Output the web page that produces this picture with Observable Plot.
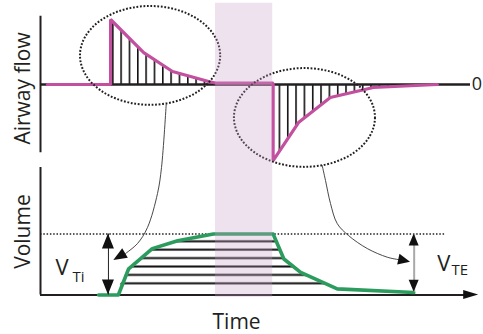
<!DOCTYPE html>
<html><head><meta charset="utf-8">
<script src="https://cdn.jsdelivr.net/npm/d3@7"></script>
<script src="https://cdn.jsdelivr.net/npm/@observablehq/plot@0.6"></script>
<style>body{margin:0;background:#fff}#chart{width:483px;height:334px}</style>
</head><body><div id="chart"></div>
<script>
// ---------- values ----------
const flowTime   = [0.16, 1.63, 1.63, 2.40, 3.07, 3.91, 4.10, 5.41, 5.41, 6.00, 6.74, 7.74, 9.23];
const flowValue  = [0, 0, 1.00, 0.49, 0.20, 0.046, 0.02, 0.02, -1.17, -0.585, -0.20, -0.046, 0];
const volumeTime  = [1.35, 1.81, 2.05, 2.60, 3.19, 4.02, 5.41, 5.66, 6.05, 6.90, 8.68];
const volumeValue = [0, 0, 0.43, 0.76, 0.89, 1.00, 1.00, 0.59, 0.37, 0.10, 0.04];
const pauseStart = [4.07];
const pauseEnd   = [5.40];
const panelNames = ["Airway flow", "Volume"];
const timeLabel  = ["Time"];
const zeroLabel  = ["0"];
const tidalNames = ["V", "Ti", "V", "TE"];
// annotation waypoints: [panel, time, value]
const linkIn  = [["f",2.923,-0.308],["f",2.814,-1.277],["v",2.721,1.664],["v",2.488,1.107],["v",2.256,0.844],["v",1.977,0.68]];
const linkInTip = ["v",1.705,0.566];
const linkOut = [["f",6.551,-1.246],["v",6.628,1.877],["v",6.744,1.5],["v",6.9,1.172],["v",7.163,0.975],["v",7.598,0.762],["v",8.063,0.62],["v",8.333,0.579]];
const linkOutTip = ["v",8.605,0.538];
const ellipseT = [2.56, 6.15], ellipseF = [0.44, -0.515], ellipseRT = [1.63, 1.64], ellipseRF = [0.76, 0.76];
const vtiTime = 1.58, vteTime = 8.69, vteLow = 0.045;

// ---------- layout of the two panels on one vertical scale ----------
const FLOW_Y0 = 250, FLOW_K = 65, VOL_Y0 = 39.5, VOL_K = 61;
const Yf = f => FLOW_Y0 + FLOW_K * f;
const Yv = v => VOL_Y0 + VOL_K * v;
const Yp = ([p, t, v]) => ({t, Y: p === "f" ? Yf(v) : Yv(v)});

const PINK = "#c3509f", GREEN = "#2b9c5e", INK = "#231f20";
const flow = flowTime.map((t, i) => ({t, v: flowValue[i]}));
const vol  = volumeTime.map((t, i) => ({t, v: volumeValue[i]}));
const insp = flow.slice(1, 7), expi = flow.slice(7);
const HB = 0.1;
const pause = pauseStart.map((s, i) => ({s, e: pauseEnd[i]}));

function annotations(index, {x, y}) {
  const g = d3.create("svg:g");
  // dotted ellipses
  ellipseT.forEach((t, i) => {
    g.append("ellipse")
      .attr("cx", x(t)).attr("cy", y(Yf(ellipseF[i])))
      .attr("rx", x(t + ellipseRT[i]) - x(t))
      .attr("ry", Math.abs(y(Yf(ellipseF[i] + ellipseRF[i])) - y(Yf(ellipseF[i]))))
      .attr("fill", "none").attr("stroke", INK).attr("stroke-width", 2)
      .attr("stroke-dasharray", "1.8 1.7");
  });
  const head = (tip, from, len, hw) => {
    const tx = x(tip.t), ty = y(tip.Y), fx = x(from.t), fy = y(from.Y);
    let dx = tx - fx, dy = ty - fy; const d = Math.hypot(dx, dy); dx /= d; dy /= d;
    const L = len ?? d;
    const bx = tx - dx * L, by = ty - dy * L;
    g.append("path")
      .attr("d", `M${tx},${ty}L${bx - dy * hw},${by + dx * hw}L${bx + dy * hw},${by - dx * hw}Z`)
      .attr("fill", "#111");
  };
  head(Yp(linkInTip), Yp(linkIn[linkIn.length - 1]), null, 5.5);
  head(Yp(linkOutTip), Yp(linkOut[linkOut.length - 1]), null, 5.5);
  // tidal volume double arrows
  head({t: vtiTime, Y: Yv(1)}, {t: vtiTime, Y: Yv(0)}, 15, 6);
  head({t: vtiTime, Y: Yv(0)}, {t: vtiTime, Y: Yv(1)}, 15, 6);
  head({t: vteTime, Y: Yv(1)}, {t: vteTime, Y: Yv(vteLow)}, 12, 5);
  head({t: vteTime, Y: Yv(vteLow)}, {t: vteTime, Y: Yv(1)}, 12, 5);
  // time axis arrow
  head({t: 10.19, Y: Yv(0)}, {t: 9.8, Y: Yv(0)}, 15, 4.5);
  return g.node();
}

const chart = Plot.plot({
  width: 483, height: 334,
  marginLeft: 0, marginRight: 0, marginTop: 0, marginBottom: 0,
  x: {domain: [0, 10], range: [40, 470], axis: null},
  y: {domain: [0, 334], range: [334, 0], axis: null},
  style: {fontFamily: "'Open Sans', sans-serif", fontSize: "21px", color: INK, background: "#fff", overflow: "visible"},
  marks: [
    // hatching
    Plot.areaY(insp, {x: "t", y1: Yf(0), y2: d => Yf(d.v), fill: "url(#vhatch)"}),
    Plot.areaY(expi, {x: "t", y1: Yf(0), y2: d => Yf(d.v), fill: "url(#vhatch)"}),
    Plot.areaY(vol.slice(1), {x: "t", y1: Yv(HB), y2: d => Yv(Math.max(d.v, HB)), fill: "url(#hhatch)"}),
    // axes
    Plot.ruleX([0], {y1: Yf(-1.05), y2: Yf(1.05), stroke: INK, strokeWidth: 2}),
    Plot.ruleY([Yf(0)], {x1: 0, x2: 10, stroke: INK, strokeWidth: 2.4}),
    Plot.ruleX([0], {y1: Yv(0), y2: Yv(2.09), stroke: INK, strokeWidth: 2}),
    Plot.ruleY([Yv(0)], {x1: 0, x2: 9.9, stroke: INK, strokeWidth: 2}),
    Plot.ruleY([Yv(1)], {x1: 0, x2: 9.42, stroke: INK, strokeWidth: 1.5, strokeDasharray: "1.5 1.8"}),
    // curves
    Plot.line(flow, {x: "t", y: d => Yf(d.v), stroke: PINK, strokeWidth: 3.2, strokeLinejoin: "miter"}),
    Plot.line(vol, {x: "t", y: d => Yv(d.v), stroke: GREEN, strokeWidth: 3.6}),
    // connecting arrows
    Plot.line(linkIn.map(Yp), {x: "t", y: "Y", curve: "catmull-rom", stroke: "#333", strokeWidth: 0.9}),
    Plot.line(linkOut.map(Yp), {x: "t", y: "Y", curve: "catmull-rom", stroke: "#333", strokeWidth: 0.9}),
    Plot.ruleX([vtiTime], {y1: Yv(0), y2: Yv(1), stroke: "#222", strokeWidth: 1}),
    Plot.ruleX([vteTime], {y1: Yv(vteLow), y2: Yv(1), stroke: "#a9a9a9", strokeWidth: 2}),
    annotations,
    // end-inspiratory pause band
    Plot.rect(pause, {x1: "s", x2: "e", y1: Yv(-0.04), y2: Yf(1.25), fill: "#ca9eca", fillOpacity: 0.3}),
    // texts
    Plot.text([panelNames[0]], {x: -0.4, y: Yf(-0.06), rotate: -90, fontSize: 21}),
    Plot.text([panelNames[1]], {x: -0.4, y: Yv(1.04), rotate: -90, fontSize: 21}),
    Plot.text(timeLabel, {x: 4.56, y: Yv(-0.45), fontSize: 21}),
    Plot.text(zeroLabel, {x: 10.03, y: Yf(0), textAnchor: "start", fontSize: 18}),
    Plot.text([tidalNames[0]], {x: 0.35, y: Yv(0.32), textAnchor: "start", lineAnchor: "bottom", fontSize: 22}),
    Plot.text([tidalNames[1]], {x: 0.744, y: Yv(0.22), textAnchor: "start", lineAnchor: "bottom", fontSize: 15}),
    Plot.text([tidalNames[2]], {x: 9.225, y: Yv(0.40), textAnchor: "start", lineAnchor: "bottom", fontSize: 22}),
    Plot.text([tidalNames[3]], {x: 9.56, y: Yv(0.32), textAnchor: "start", lineAnchor: "bottom", fontSize: 15})
  ]
});

// hatch patterns
const defs = d3.select(chart).insert("defs", ":first-child");
defs.append("pattern").attr("id", "vhatch").attr("patternUnits", "userSpaceOnUse")
  .attr("width", 8.33).attr("height", 40)
  .append("rect").attr("x", 3.7).attr("y", 0).attr("width", 1.6).attr("height", 40).attr("fill", "#111");
defs.append("pattern").attr("id", "hhatch").attr("patternUnits", "userSpaceOnUse")
  .attr("width", 40).attr("height", 8.4)
  .append("rect").attr("x", 0).attr("y", 5.1).attr("width", 40).attr("height", 2).attr("fill", "#111");
document.getElementById("chart").append(chart);
</script></body></html>
